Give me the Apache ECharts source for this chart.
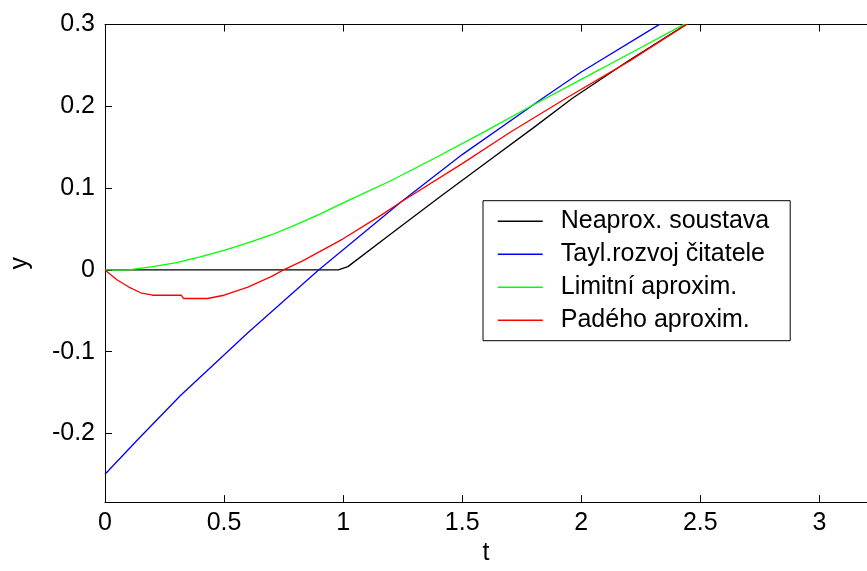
<!DOCTYPE html>
<html>
<head>
<meta charset="utf-8">
<script src="https://cdn.jsdelivr.net/npm/echarts@6/dist/echarts.min.js"></script>
<style>
html,body{margin:0;padding:0;background:#fff;}
#chart{width:867px;height:571px;}
</style>
</head>
<body>
<div id="chart"></div>
<script>
// ---- data ----
const seriesNames = ['Neaprox. soustava', 'Tayl.rozvoj čitatele', 'Limitní aproxim.', 'Padého aproxim.'];
const blackT = [0, 0.98, 1.02, 1.2, 1.4, 1.6, 1.8, 1.963, 2.2, 2.44, 2.7];
const blackY = [0, 0, 0.004, 0.044, 0.088, 0.131, 0.174, 0.21, 0.256, 0.3, 0.345];
const blueT = [0, 0.136, 0.316, 0.6, 0.897, 1.243, 1.5, 1.838, 2.0, 2.327, 2.6];
const blueY = [-0.25, -0.208, -0.154, -0.077, 0, 0.083, 0.141, 0.21, 0.242, 0.3, 0.35];
const greenT = [0, 0.1, 0.2, 0.3, 0.4, 0.5, 0.6, 0.7, 0.8, 0.9, 1.0, 1.2, 1.4, 1.6, 1.8, 2.0, 2.2, 2.43, 2.7];
const greenY = [0, 0, 0.004, 0.009, 0.016, 0.024, 0.033, 0.043, 0.055, 0.068, 0.082, 0.109, 0.139, 0.17, 0.202, 0.233, 0.264, 0.3, 0.34];
const redT = [0, 0.05, 0.1, 0.15, 0.2, 0.32, 0.33, 0.43, 0.5, 0.6, 0.7, 0.75, 0.83, 1.0, 1.16, 1.243, 1.5, 1.7, 1.936, 2.2, 2.44, 2.7];
const redY = [0, -0.012, -0.021, -0.028, -0.031, -0.031, -0.035, -0.035, -0.031, -0.021, -0.008, 0, 0.011, 0.038, 0.067, 0.083, 0.13, 0.168, 0.21, 0.255, 0.3, 0.345];
const xTicks = [0, 0.5, 1, 1.5, 2, 2.5, 3];
const yTicks = [-0.2, -0.1, 0, 0.1, 0.2, 0.3];
const xMin = 0, xMax = 3.2;
const yMin = -0.284, yMax = 0.3;

const pairs = (t, y) => t.map((v, i) => [v, y[i]]);
const colors = ['#000000', '#0000ff', '#00ff00', '#ff0000'];
const data = [pairs(blackT, blackY), pairs(blueT, blueY), pairs(greenT, greenY), pairs(redT, redY)];

const FONT = 'Liberation Sans';
const chart = echarts.init(document.getElementById('chart'));
const axisCommon = {
  axisLine: {show: true, onZero: false, lineStyle: {color: '#000', width: 1}},
  axisTick: {show: true, inside: true, length: 7, lineStyle: {color: '#000', width: 1}},
  splitLine: {show: false}
};
chart.setOption({
  animation: false,
  backgroundColor: '#fff',
  grid: {left: 100.6, top: 24.6, bottom: 57.7, right: -4.2, containLabel: false},
  xAxis: [
    Object.assign({}, axisCommon, {
      type: 'value', min: xMin, max: xMax, position: 'bottom',
      axisTick: Object.assign({}, axisCommon.axisTick, {customValues: xTicks}),
      axisLabel: {customValues: xTicks, color: '#000', fontFamily: FONT, fontSize: 25, margin: 9,
        formatter: v => String(v)},
      name: 't', nameLocation: 'middle', nameGap: 36,
      nameTextStyle: {color: '#000', fontFamily: FONT, fontSize: 25}
    }),
    Object.assign({}, axisCommon, {
      type: 'value', min: xMin, max: xMax, position: 'top',
      axisTick: Object.assign({}, axisCommon.axisTick, {customValues: xTicks}),
      axisLabel: {show: false}
    })
  ],
  yAxis: [
    Object.assign({}, axisCommon, {
      type: 'value', min: yMin, max: yMax, position: 'left',
      axisTick: Object.assign({}, axisCommon.axisTick, {customValues: yTicks}),
      axisLabel: {customValues: yTicks, color: '#000', fontFamily: FONT, fontSize: 25, margin: 10,
        formatter: v => String(Math.round(v * 10) / 10)},
      name: 'y', nameLocation: 'middle', nameGap: 72, nameRotate: 90,
      nameTextStyle: {color: '#000', fontFamily: FONT, fontSize: 25}
    })
  ],
  legend: {
    orient: 'vertical', left: 483, top: 200.7,
    padding: [8, 21, 8, 14],
    backgroundColor: '#fff', borderColor: '#000', borderWidth: 1, borderRadius: 0,
    itemWidth: 45, itemHeight: 25, itemGap: 8,
    itemStyle: {opacity: 0},
    lineStyle: {width: 1.5},
    textStyle: {color: '#000', fontFamily: FONT, fontSize: 25, padding: [0, 0, 0, 13]},
    data: seriesNames
  },
  series: data.map((d, i) => ({
    name: seriesNames[i], type: 'line', data: d, symbol: 'none', clip: true,
    xAxisIndex: 0, yAxisIndex: 0,
    lineStyle: {color: colors[i], width: 1.3}, itemStyle: {color: colors[i]}
  }))
});
</script>
</body>
</html>
